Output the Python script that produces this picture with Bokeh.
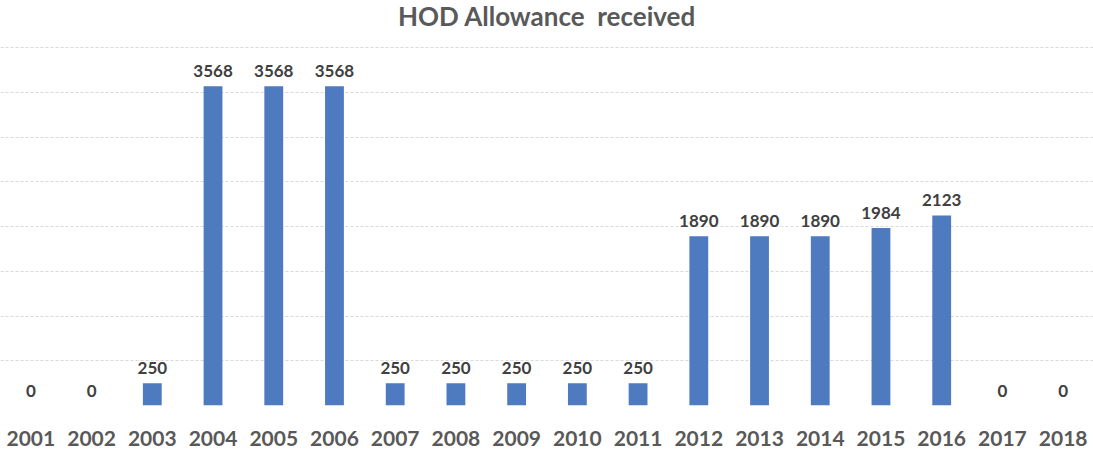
from bokeh.plotting import figure
from bokeh.models import Range1d, FactorRange, ColumnDataSource, Label, FixedTicker
from bokeh.core.properties import value
from bokeh.embed import file_html
from bokeh.resources import INLINE

years = [str(y) for y in range(2001, 2019)]
allowance = [0, 0, 250, 3568, 3568, 3568, 250, 250, 250, 250, 250,
             1890, 1890, 1890, 1984, 2123, 0, 0]
grid_ticks = [0, 500, 1000, 1500, 2000, 2500, 3000, 3500, 4000]

W, H = 1093, 453
FRAME_TOP, FRAME_BOTTOM = 47, 405
px_per_unit = (FRAME_BOTTOM - FRAME_TOP) / 4000.0
y_top = FRAME_BOTTOM / px_per_unit  # range extends to canvas top for the title

FONT = "Lato"
GREY = "#595959"

source = ColumnDataSource(dict(
    year=years,
    amount=allowance,
    label=[str(v) for v in allowance],
))

p = figure(
    width=W, height=H,
    x_range=FactorRange(factors=years, range_padding=0),
    y_range=Range1d(0, y_top),
    output_backend="svg", toolbar_location=None,
    min_border_left=0, min_border_right=0, min_border_top=0,
    min_border_bottom=H - FRAME_BOTTOM,
)
p.outline_line_color = None
p.background_fill_color = "white"
p.border_fill_color = "white"

p.vbar(x="year", top="amount", width=0.31, source=source,
       fill_color="#4e7ac0", line_color=None)

p.text(x="year", y="amount", text="label", source=source,
       text_align="center", text_baseline="bottom", y_offset=-9,
       text_font=value(FONT), text_font_style="bold",
       text_font_size="17px", text_color="#404040")

p.yaxis.visible = False
p.ygrid.ticker = FixedTicker(ticks=grid_ticks)
p.ygrid.grid_line_color = "#d9d9d9"
p.ygrid.grid_line_dash = "3 2"
p.ygrid.grid_line_width = 1
p.xgrid.grid_line_color = None

ax = p.xaxis[0]
ax.axis_line_color = None
ax.major_tick_line_color = None
ax.minor_tick_line_color = None
ax.major_label_standoff = 19
ax.major_label_text_font = FONT
ax.major_label_text_font_style = "bold"
ax.major_label_text_font_size = "21px"
ax.major_label_text_color = GREY

title = Label(x=len(years) / 2.0, y=(FRAME_BOTTOM - 15) / px_per_unit,
              text="HOD Allowance\u00a0 received",
              text_align="center", text_baseline="middle",
              text_font=FONT, text_font_style="bold",
              text_font_size="26px", text_color=GREY)
p.add_layout(title)

open("out.html", "w").write(file_html(p, INLINE))
